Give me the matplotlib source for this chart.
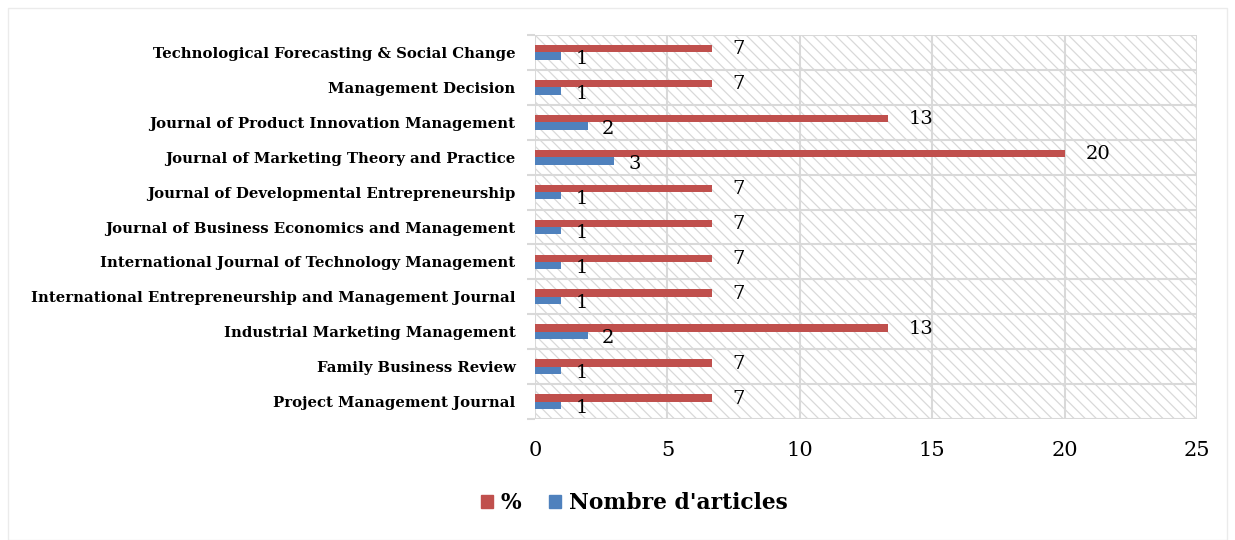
import numpy as np
import matplotlib.pyplot as plt
from matplotlib.patches import Rectangle, Patch

plt.rcParams['font.family'] = ['DejaVu Serif']
plt.rcParams['hatch.linewidth'] = 0.9

journals = [
    "Project Management Journal",
    "Family Business Review",
    "Industrial Marketing Management",
    "International Entrepreneurship and Management Journal",
    "International Journal of Technology Management",
    "Journal of Business Economics and Management",
    "Journal of Developmental Entrepreneurship",
    "Journal of Marketing Theory and Practice",
    "Journal of Product Innovation Management",
    "Management Decision",
    "Technological Forecasting & Social Change",
]
nb_articles = [1, 1, 2, 1, 1, 1, 1, 3, 2, 1, 1]
pourcent = [6.67, 6.67, 13.33, 6.67, 6.67, 6.67, 6.67, 20.0, 13.33, 6.67, 6.67]

red = '#C0504D'
blue = '#4F81BD'
grid_c = '#D9D9D9'

fig = plt.figure(figsize=(12.35, 5.4), dpi=100)
ax = fig.add_axes([535 / 1235, 1 - 419 / 540, 662 / 1235, 384 / 540])

y = np.arange(len(journals))
h = 0.21
ax.barh(y + h / 2, pourcent, height=h, color=red, zorder=3)
ax.barh(y - h / 2, nb_articles, height=h, color=blue, zorder=3)

for yi, v in zip(y, pourcent):
    ax.annotate(f"{v:.0f}", (v, yi + h / 2), xytext=(15, -0.5), textcoords='offset points',
                va='center', ha='left', fontsize=14, zorder=4)
for yi, v in zip(y, nb_articles):
    ax.annotate(f"{v}", (v, yi - h / 2), xytext=(10, -2), textcoords='offset points',
                va='center', ha='left', fontsize=14, zorder=4)

ax.set_xlim(0, 25)
ax.set_ylim(-0.5, len(journals) - 0.5)

# hatched plot area
ax.add_patch(Rectangle((0, 0), 1, 1, transform=ax.transAxes, facecolor='white',
                       edgecolor=grid_c, hatch='\\\\\\', linewidth=0, zorder=0))

ax.set_xticks([0, 5, 10, 15, 20, 25])
ax.set_yticks(y)
ax.set_yticklabels(journals, fontweight='bold', fontsize=10.7)
ax.set_yticks(np.arange(-0.5, len(journals)), minor=True)
ax.tick_params(axis='y', which='major', length=0, pad=14)
ax.tick_params(axis='y', which='minor', length=6, color=grid_c, width=1.5)
ax.tick_params(axis='x', length=0, labelsize=15, pad=16)
ax.grid(axis='x', color=grid_c, linewidth=1.5, zorder=1)
ax.grid(axis='y', which='minor', color=grid_c, linewidth=1.5, zorder=1)
for s in ax.spines.values():
    s.set_visible(False)

handles = [Patch(color=red, label='%'), Patch(color=blue, label="Nombre d'articles")]
fig.legend(handles=handles, loc='center', bbox_to_anchor=(634 / 1235, 1 - 503 / 540),
           ncol=2, frameon=False, prop={'weight': 'bold', 'size': 15.7},
           handlelength=0.55, handleheight=0.55, handletextpad=0.35, columnspacing=1.3)

# chart border
fig.add_artist(Rectangle((8 / 1235, 0), 1 - 16 / 1235, 1 - 8 / 540, transform=fig.transFigure,
                         fill=False, edgecolor='#EBEBEB', linewidth=1))

fig.savefig('out.png', dpi=100)
